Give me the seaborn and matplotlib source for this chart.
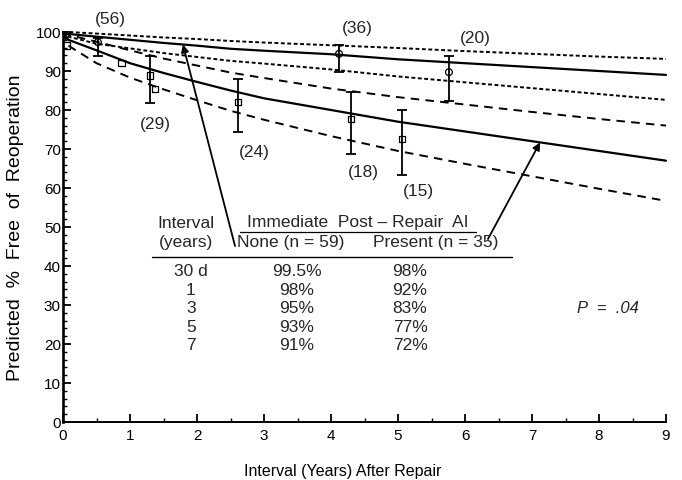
import numpy as np
import pandas as pd
import matplotlib
matplotlib.use("Agg")
import matplotlib.pyplot as plt
from matplotlib.lines import Line2D
import seaborn as sns

# Predicted freedom from reoperation (%) by interval after repair
years = [0, 0.08, 0.5, 1, 1.5, 2, 2.5, 3, 4, 5, 6, 7, 8, 9]
none_est = [100, 99.5, 98.8, 98, 97.2, 96.5, 95.7, 95.2, 94.3, 93, 92, 91, 90, 89]
none_hi = [100, 100, 99.6, 99.1, 98.6, 98.2, 97.7, 97.3, 96.6, 95.9, 95.1, 94.4, 93.7, 93.1]
none_lo = [100, 98.8, 97, 95.8, 94.6, 93.6, 92.6, 91.9, 90.4, 88.6, 87.1, 85.6, 84.1, 82.6]
present_est = [100, 98, 95.3, 92, 89.5, 87.2, 85, 83, 80, 77, 74.5, 72, 69.5, 67]
present_hi = [100, 99.3, 97.5, 95.3, 93.2, 91.4, 89.6, 88.2, 85.5, 83.3, 81.4, 79.5, 77.7, 76]
present_lo = [100, 96.5, 92, 88.3, 85.3, 82.5, 79.8, 77.5, 73.3, 69.5, 66.2, 63, 59.8, 56.7]

# Observed (actuarial) points with confidence bars and numbers at risk
none_obs_x = [0.52, 4.12, 5.76]
none_obs_y = [97.4, 94.4, 89.7]
none_obs_lo = [93.9, 89.7, 82.3]
none_obs_hi = [98.4, 96.7, 93.8]
none_obs_n = ["(56)", "(36)", "(20)"]

present_obs_x = [1.3, 2.61, 4.3, 5.06]
present_obs_y = [88.8, 82.0, 77.7, 72.6]
present_obs_lo = [81.7, 74.4, 68.7, 63.3]
present_obs_hi = [93.9, 88.0, 84.6, 80.0]
present_obs_n = ["(29)", "(24)", "(18)", "(15)"]

present_events_x = [0.05, 0.87, 1.37]
present_events_y = [96.5, 92.0, 85.4]

# Summary table
table_intervals = ["30 d", "1", "3", "5", "7"]
table_none = ["99.5%", "98%", "95%", "93%", "91%"]
table_present = ["98%", "92%", "83%", "77%", "72%"]

x_ticks = list(range(0, 10))
y_ticks = list(range(0, 101, 10))

sns.set_theme(style="ticks")
plt.rcParams["font.family"] = ["Liberation Sans", "DejaVu Sans"]

W, H = 682, 481
fig = plt.figure(figsize=(W / 100, H / 100), dpi=100)
fig.patch.set_facecolor("white")


def fx(px):
    return px / W


def fy(py):
    return 1 - py / H


ax = fig.add_axes([fx(63), fy(423), fx(666) - fx(63), fy(33) - fy(423)])
ax.set_facecolor("white")

dotted = (0, (2.0, 1.3))
dashed = (0, (4.4, 3.2))
curves = [
    (none_est, "-", 1.6),
    (none_hi, dotted, 1.4),
    (none_lo, dotted, 1.4),
    (present_est, "-", 1.6),
    (present_hi, dashed, 1.4),
    (present_lo, dashed, 1.4),
]
for vals, ls, lw in curves:
    df = pd.DataFrame({"year": years, "pct": vals})
    sns.lineplot(data=df, x="year", y="pct", ax=ax, color="black",
                 linestyle=ls, linewidth=lw, estimator=None, sort=False,
                 clip_on=False)

# confidence bars
ax.errorbar(none_obs_x, none_obs_y,
            yerr=[np.subtract(none_obs_y, none_obs_lo), np.subtract(none_obs_hi, none_obs_y)],
            fmt="none", ecolor="black", elinewidth=1.3, capsize=3.5, capthick=1.3)
ax.errorbar(present_obs_x, present_obs_y,
            yerr=[np.subtract(present_obs_y, present_obs_lo), np.subtract(present_obs_hi, present_obs_y)],
            fmt="none", ecolor="black", elinewidth=1.3, capsize=3.5, capthick=1.3)

sns.scatterplot(x=none_obs_x, y=none_obs_y, ax=ax, marker="o", s=24,
                facecolors="none", edgecolor="black", linewidth=0.9, zorder=5)
sns.scatterplot(x=present_obs_x + present_events_x, y=present_obs_y + present_events_y,
                ax=ax, marker="s", s=22, facecolors="none", edgecolor="black",
                linewidth=0.9, zorder=5, clip_on=False)

# numbers at risk
lab_fs = 12.5
for x, hi, lab, dx, dy in zip(none_obs_x, none_obs_hi, none_obs_n, [13, 18, 26], [20, 17, 19]):
    ax.annotate(lab, xy=(x, hi), xytext=(dx, dy), textcoords="offset pixels",
                ha="center", va="center", fontsize=lab_fs, annotation_clip=False)
for x, lo, lab, dx, dy in zip(present_obs_x, present_obs_lo, present_obs_n,
                              [5, 16, 12, 16], [-20, -20, -17, -15]):
    ax.annotate(lab, xy=(x, lo), xytext=(dx, dy), textcoords="offset pixels",
                ha="center", va="center", fontsize=lab_fs, annotation_clip=False)

ax.set_xlim(0, 9)
ax.set_ylim(0, 100)
ax.set_xticks(x_ticks)
ax.set_yticks(y_ticks)
ax.set_xticks(np.arange(0.5, 9, 1), minor=True)
ax.set_yticks(np.arange(0, 100, 2), minor=True)
ax.tick_params(axis="both", which="major", direction="in", length=6, width=1.3,
               labelsize=11, color="black", labelcolor="black")
ax.tick_params(axis="both", which="minor", direction="in", length=3, width=1.0, color="black")
ax.tick_params(axis="y", pad=1.5)
ax.tick_params(axis="x", pad=4)
for side in ["top", "right"]:
    ax.spines[side].set_visible(False)
ax.spines["left"].set_linewidth(1.9)
ax.spines["bottom"].set_linewidth(1.4)
ax.spines["left"].set_color("black")
ax.spines["bottom"].set_color("black")

ax.set_xlabel("Interval (Years) After Repair", fontsize=11.5, labelpad=12, color="black")
ax.xaxis.set_label_coords((343 - 63) / 603, -0.105)
ax.set_ylabel("Predicted  %  Free  of  Reoperation", fontsize=14, color="black")
ax.yaxis.set_label_coords(-(63 - 24) / 603, (423 - 228) / 390)

# arrows from the table headings to the curves
tip1_x, tip2_x = 1.79, 7.12
ax.annotate("", xy=(tip1_x, np.interp(tip1_x, years, none_est)),
            xytext=(fx(235), fy(247)), textcoords="figure fraction",
            arrowprops=dict(arrowstyle="-|>", color="black", lw=1.3, mutation_scale=11,
                            shrinkA=0, shrinkB=0))
ax.annotate("", xy=(tip2_x, np.interp(tip2_x, years, present_est)),
            xytext=(fx(488), fy(240)), textcoords="figure fraction",
            arrowprops=dict(arrowstyle="-|>", color="black", lw=1.3, mutation_scale=11,
                            shrinkA=0, shrinkB=0))

# table
tfs = 12.5
fig.text(fx(186), fy(224), "Interval", ha="center", va="center", fontsize=tfs)
fig.text(fx(186), fy(243), "(years)", ha="center", va="center", fontsize=tfs)
fig.text(fx(358), fy(222), "Immediate  Post \u2013 Repair  AI", ha="center", va="center", fontsize=tfs)
fig.text(fx(291), fy(243), "None (n = 59)", ha="center", va="center", fontsize=tfs)
fig.text(fx(436), fy(243), "Present (n = 35)", ha="center", va="center", fontsize=tfs)
fig.add_artist(Line2D([fx(240), fx(476)], [fy(233), fy(233)], color="black", lw=0.9))
fig.add_artist(Line2D([fx(152), fx(512)], [fy(258), fy(258)], color="black", lw=1.0))
row_y = [272, 291, 309, 328, 346]
for ry, a, b, c in zip(row_y, table_intervals, table_none, table_present):
    fig.text(fx(191), fy(ry), a, ha="center", va="center", fontsize=tfs)
    fig.text(fx(297), fy(ry), b, ha="center", va="center", fontsize=tfs)
    fig.text(fx(410), fy(ry), c, ha="center", va="center", fontsize=tfs)

fig.text(fx(608), fy(309), "P  =  .04", ha="center", va="center", fontsize=12,
         fontstyle="italic")

fig.savefig("out.png", dpi=100, facecolor="white")
